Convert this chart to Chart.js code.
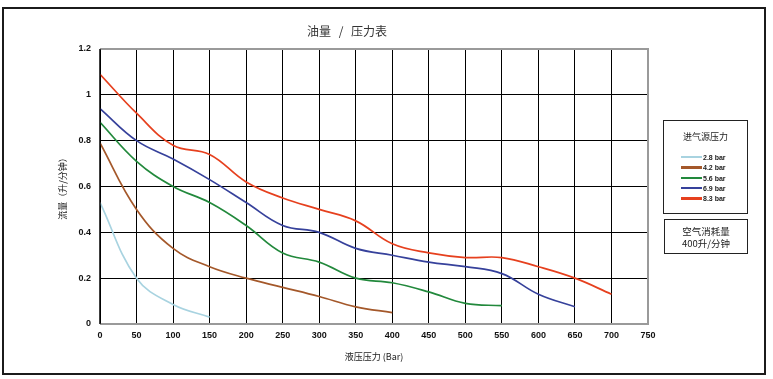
<!DOCTYPE html>
<html>
<head>
<meta charset="utf-8">
<script src="https://cdn.jsdelivr.net/npm/chart.js@4"></script>
<style>
  html, body { margin: 0; padding: 0; background: #fff; }
  #wrap { position: relative; width: 773px; height: 379px; overflow: hidden; }
  #frame { position: absolute; left: 2px; top: 7px; width: 764px; height: 368px; box-sizing: border-box; border: 2px solid #1b1b1b; pointer-events: none; }
  canvas { position: absolute; left: 0; top: 0; }
  #title { position: absolute; left: 247px; width: 200px; top: 22px; text-align: center; font: 12px "Noto Sans CJK SC", sans-serif; color: #333; word-spacing: 5px; }
  .box { position: absolute; box-sizing: border-box; border: 1.5px solid #222; background: #fff; font-family: "Noto Sans CJK SC", sans-serif; color: #222; }
  #legend { left: 663px; top: 120px; width: 85px; height: 94px; }
  #legend .lt { position: absolute; left: 0; width: 100%; top: 9px; text-align: center; font-size: 9px; }
  #legend .item { position: absolute; left: 17px; height: 10px; font: bold 7px "Liberation Sans", Arial, sans-serif; line-height: 10px; white-space: nowrap; }
  #legend .sw { display: inline-block; width: 21px; height: 2.5px; vertical-align: middle; margin-right: 1px; position: relative; top: -1px; }
  #air { left: 664px; top: 219px; width: 84px; height: 35px; text-align: center; font-size: 9.5px; line-height: 12px; padding-top: 5px; }
</style>
</head>
<body>
<div id="wrap">
  <canvas id="c" width="773" height="379"></canvas>
  <div id="title">油量 / 压力表</div>
  <div id="legend" class="box"><div class="lt">进气源压力</div></div>
  <div id="air" class="box">空气消耗量<br>400升/分钟</div>
  <div id="frame"></div>
</div>
<script>
// ---- data ----
const pressures = [0, 50, 100, 150, 200, 250, 300, 350, 400, 450, 500, 550, 600, 650, 700];
const seriesLabels = ["2.8 bar", "4.2 bar", "5.6 bar", "6.9 bar", "8.3 bar"];
const flow28 = [0.53, 0.20, 0.085, 0.03];
const flow42 = [0.79, 0.50, 0.33, 0.25, 0.20, 0.16, 0.12, 0.075, 0.05];
const flow56 = [0.88, 0.71, 0.60, 0.53, 0.43, 0.31, 0.27, 0.20, 0.18, 0.14, 0.09, 0.08];
const flow69 = [0.94, 0.80, 0.72, 0.63, 0.53, 0.43, 0.40, 0.33, 0.30, 0.27, 0.25, 0.22, 0.13, 0.075];
const flow83 = [1.09, 0.92, 0.78, 0.74, 0.62, 0.55, 0.50, 0.45, 0.35, 0.31, 0.29, 0.29, 0.25, 0.20, 0.13];
const seriesColors = ["#a8d3e0", "#a4582a", "#22893c", "#36419b", "#e6401e"];
const xTickLabels = [0, 50, 100, 150, 200, 250, 300, 350, 400, 450, 500, 550, 600, 650, 700, 750];
const yTickLabels = [0, 0.2, 0.4, 0.6, 0.8, 1, 1.2];

const allSeries = [flow28, flow42, flow56, flow69, flow83];

const datasets = allSeries.map((vals, i) => ({
  label: seriesLabels[i],
  data: vals.map((v, j) => ({ x: pressures[j], y: v })),
  borderColor: seriesColors[i],
  backgroundColor: seriesColors[i],
  borderWidth: 1.7,
  pointRadius: 0,
  tension: 0.4,
  fill: false
}));

// HTML legend from the same arrays
const legend = document.getElementById('legend');
seriesLabels.forEach((lab, i) => {
  const d = document.createElement('div');
  d.className = 'item';
  d.style.top = (32 + i * 10.3) + 'px';
  d.innerHTML = '<span class="sw" style="background:' + seriesColors[i] + '"></span>' + lab;
  legend.appendChild(d);
});

const plotBorder = {
  id: 'plotBorder',
  afterDatasetsDraw(chart) {
    const { ctx, chartArea: a } = chart;
    ctx.save();
    ctx.strokeStyle = '#9a9a9a';
    ctx.lineWidth = 2;
    ctx.beginPath();
    ctx.moveTo(a.left, a.top); ctx.lineTo(a.right, a.top); ctx.lineTo(a.right, a.bottom); ctx.lineTo(a.left, a.bottom);
    ctx.stroke();
    ctx.strokeStyle = '#000';
    ctx.lineWidth = 1.5;
    ctx.beginPath();
    ctx.moveTo(a.left, a.top); ctx.lineTo(a.left, a.bottom);
    ctx.stroke();
    ctx.restore();
  }
};

const tickFont = { family: '"Liberation Sans", Arial, sans-serif', size: 9, weight: 'bold' };

new Chart(document.getElementById('c'), {
  type: 'line',
  data: { datasets },
  options: {
    responsive: false,
    animation: false,
    layout: { padding: { left: 0, right: 125, top: 49, bottom: 0 } },
    plugins: { legend: { display: false }, title: { display: false }, tooltip: { enabled: false } },
    scales: {
      x: {
        type: 'linear', min: 0, max: 750,
        afterBuildTicks: s => { s.ticks = xTickLabels.map(v => ({ value: v })); },
        afterFit: s => { s.height = 55; },
        ticks: { font: tickFont, color: '#111', padding: 6, maxRotation: 0, autoSkip: false, callback: v => String(v) },
        grid: { color: '#000', lineWidth: 1, drawTicks: false },
        border: { display: false },
        title: { display: true, text: '液压压力 (Bar)', font: { family: '"Noto Sans CJK SC", sans-serif', size: 9 }, color: '#222', padding: { top: 0, bottom: 17 } }
      },
      y: {
        type: 'linear', min: 0, max: 1.2,
        afterBuildTicks: s => { s.ticks = yTickLabels.map(v => ({ value: v })); },
        afterFit: s => { s.width = 100; },
        ticks: { font: tickFont, color: '#111', padding: 9, autoSkip: false, callback: v => String(+v.toFixed(1)) },
        grid: { color: '#000', lineWidth: 1, drawTicks: false },
        border: { display: false },
        title: { display: true, text: '流量（升/分钟）', font: { family: '"Noto Sans CJK SC", sans-serif', size: 9 }, color: '#222', padding: { top: 57, bottom: 0 } }
      }
    }
  },
  plugins: [plotBorder]
});
</script>
</body>
</html>
